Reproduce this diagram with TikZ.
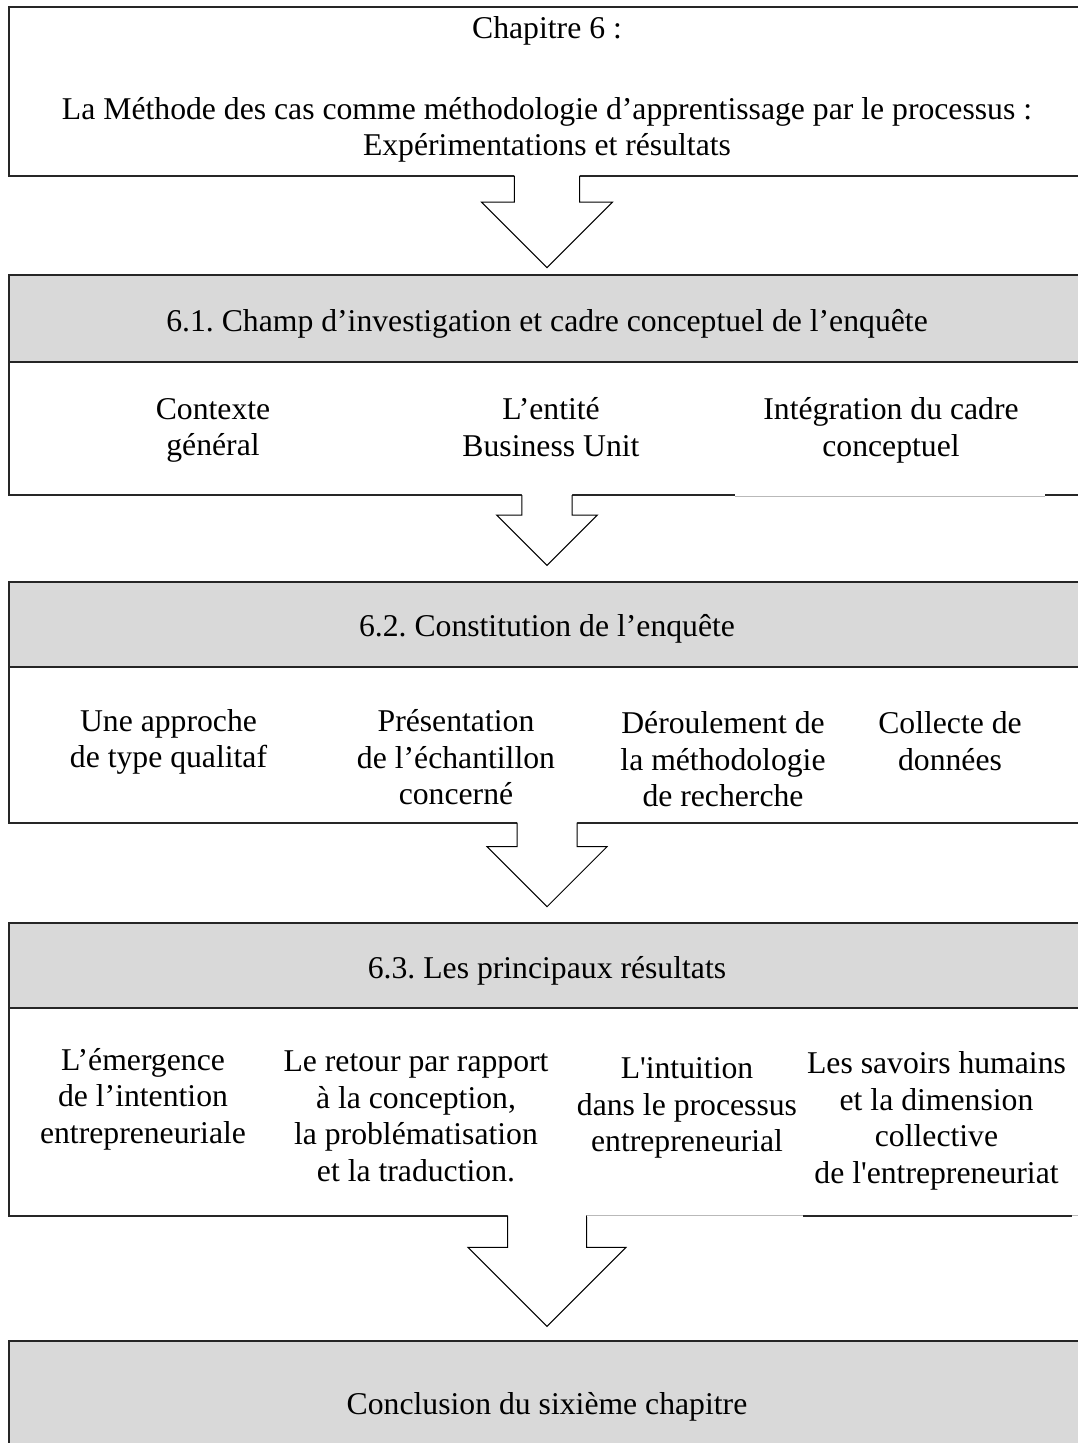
\documentclass[tikz,border=0pt]{standalone}
\usepackage{fontspec}
\setmainfont{Liberation Serif}
\usetikzlibrary{positioning}
\frenchspacing

% hollow block arrow under a box: #1 = box above, #2 = head length
\newcommand{\bigarrow}[2]{%
  \fill[white] ([yshift=1.5pt]#1.south) ++(-0.5*#2,0) -- ++(0,0.4*#2+1.5) -- ++(-0.5*#2,0)
    -- ++(#2,#2) -- ++(#2,-#2) -- ++(-0.5*#2,0) -- ++(0,-0.4*#2-1.5) -- cycle;
  \draw[arr] (#1.south) ++(-0.5*#2,0) -- ++(0,0.4*#2) -- ++(-0.5*#2,0)
    -- ++(#2,#2) coordinate (#1tip) -- ++(#2,-#2) -- ++(-0.5*#2,0) -- ++(0,-0.4*#2);
}

\begin{document}
\begin{tikzpicture}[x=1pt,y=-1pt,
    every node/.style={font=\fontsize{31.7}{36.5}\selectfont,outer sep=0pt,inner sep=0pt},
    chapbox/.style={rectangle,draw=black!85,line width=2pt,fill=white,minimum width=1076pt,align=center,
      execute at begin node=\strut,execute at end node=\strut},
    head/.style={chapbox,fill=gray!30,execute at begin node={\rule{0pt}{36.5pt}}},
    body/.style={chapbox},
    txt/.style={align=center,execute at begin node=\strut,execute at end node=\strut},
    arr/.style={draw=black,line width=1pt,line join=miter},
    faint/.style={draw=gray!55,line width=1pt}
  ]
  \useasboundingbox (0,0) rectangle (1078,1443);
  \clip (0,0) rectangle (1078,1443);

  % chapter box
  \node[chapbox,minimum height=169pt,execute at begin node={\rule{0pt}{29pt}}] (chap) at (547,91.5)
    {Chapitre 6 :\\[44pt]La Méthode des cas comme méthodologie d’apprentissage par le processus :\\Expérimentations et résultats};

  % 6.1
  \node[head,minimum height=87pt] (h61) at (547,318.5) {6.1. Champ d’investigation et cadre conceptuel de l’enquête};
  \node[body,below=0pt of h61,minimum height=133pt] (b61) {};
  \node[txt] (t61a) at (213,432.5) {Contexte\\général};
  \node[txt] (t61b) at (551,432.5) {L’entité\\Business Unit};
  \node[txt] (t61c) at (891,432.5) {Intégration du cadre\\conceptuel};

  % 6.2
  \node[head,minimum height=85pt] (h62) at (547,624.2) {6.2. Constitution de l’enquête};
  \node[body,below=0pt of h62,minimum height=156pt] (b62) {};
  \node[txt] (t62a) at (168.5,743.8) {Une approche\\de type qualitaf};
  \node[txt] (t62b) at (456,762.5) {Présentation\\de l’échantillon\\concerné};
  \node[txt] (t62c) at (723,764.5) {Déroulement de\\la méthodologie\\de recherche};
  \node[txt] (t62d) at (950,746.5) {Collecte de\\données};

  % 6.3
  \node[head,minimum height=85pt] (h63) at (547,965.5) {6.3. Les principaux résultats};
  \node[body,below=0pt of h63,minimum height=207.7pt] (b63) {};
  \node[txt] (t63a) at (143,1101) {L’émergence\\de l’intention\\entrepreneuriale};
  \node[txt] (t63b) at (416,1121.5) {Le retour par rapport\\à la conception,\\la problématisation\\et la traduction.};
  \node[txt] (t63c) at (687,1110) {L\textquotesingle intuition\\dans le processus\\entrepreneurial};
  \node[txt] (t63d) at (936.5,1123) {Les savoirs humains\\et la dimension\\collective\\de l\textquotesingle entrepreneuriat};

  % conclusion
  \node[head,minimum height=122.6pt] (concl) at (547,1402) {Conclusion du sixième chapitre};

  % arrows
  \bigarrow{chap}{65.4}
  \bigarrow{b61}{50.3}
  \bigarrow{b62}{60}
  \bigarrow{b63}{79}

  % lighter bits of the lower edges
  \draw[white,line width=2.5pt] (735,495) -- (1045,495);
  \draw[faint] (735,496) -- (1045,496);
  \draw[white,line width=2.5pt] (587,1215.7) -- (803,1215.7) (1072,1215.7) -- (1078,1215.7);
  \draw[faint] (587,1215.5) -- (803,1215.5) (1072,1215.5) -- (1078,1215.5);
\end{tikzpicture}
\end{document}
